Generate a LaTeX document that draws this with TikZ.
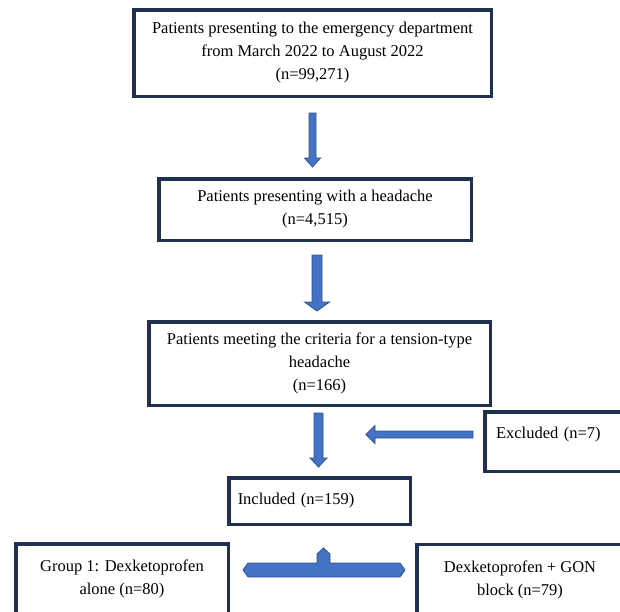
\documentclass[tikz,border=0pt]{standalone}
\usepackage{fontspec}
\setmainfont{Liberation Serif}
\usetikzlibrary{calc}
\definecolor{boxline}{HTML}{1F3050}
\definecolor{arrowblue}{HTML}{4472C4}
\definecolor{arrowline}{HTML}{2F528F}

% block arrows: #1 start, #2 tip, #3 half shaft, #4 half head
\newcommand{\downblock}[4]{%
	\filldraw[blockarrow] ($(#1)+(-#3,0)$) -- ($(#2)+(-#3,-9)$) -- ($(#2)+(-#4,-9)$) -- (#2)
		-- ($(#2)+(#4,-9)$) -- ($(#2)+(#3,-9)$) -- ($(#1)+(#3,0)$) -- cycle;}
\newcommand{\leftblock}[4]{%
	\filldraw[blockarrow] ($(#1)+(0,-#3)$) -- ($(#2)+(9,-#3)$) -- ($(#2)+(9,-#4)$) -- (#2)
		-- ($(#2)+(9,#4)$) -- ($(#2)+(9,#3)$) -- ($(#1)+(0,#3)$) -- cycle;}

\begin{document}
\begin{tikzpicture}[x=1pt, y=-1pt,
		flowbox/.style={draw=boxline, line width=3.5pt, fill=white, align=center, inner sep=0pt,
			font=\fontsize{16.5}{23}\selectfont},
		blockarrow/.style={fill=arrowblue, draw=arrowline, line width=0.8pt, line join=miter}]
		\clip (0,0) rectangle (620,611);
		\node[flowbox, minimum width=357.5pt, minimum height=86.5pt] (pop) at (312.5,53) {Patients presenting to the emergency department\\from March 2022 to August 2022\\(n=99,271)};
		\node[flowbox, minimum width=312.5pt, minimum height=61.5pt] (hd) at (315,209.5) {Patients presenting with a headache\\(n=4,515)};
		\node[flowbox, minimum width=341.5pt, minimum height=83.5pt] (tth) at (319.5,363.5) {Patients meeting the criteria for a tension-type\\headache\\(n=166)};
		\node[flowbox, minimum width=181.5pt, minimum height=46.5pt, inner xsep=9pt, text width=163.5pt, align=left] (incl) at (319.5,501) {Included (n=159)};
		\node[flowbox, minimum width=139.5pt, minimum height=59.5pt, inner xsep=11.25pt, text width=117pt, align=left, text height=11pt, text depth=17pt] (ex) at (554.5,441.5) {Excluded (n=7)};
		\node[flowbox, minimum width=212.5pt, minimum height=70.5pt] (g1) at (122,579) {Group 1: Dexketoprofen\\alone (n=80)};
		\node[flowbox, minimum width=206.5pt, minimum height=70.5pt] (g2) at (520,579.5) {Dexketoprofen + GON\\block (n=79)};

		\coordinate (a1s) at ($(pop.south)+(0,15)$);
		\coordinate (a1e) at ($(a1s |- hd.north)+(0,-10)$);
		\coordinate (a2s) at ($(hd.south)+(2,13)$);
		\coordinate (a2e) at ($(a2s |- tth.north)+(0,-9)$);
		\coordinate (a3s) at ($(tth.south)+(-1,6)$);
		\coordinate (a3e) at ($(a3s |- incl.north)+(0,-9)$);
		\coordinate (a4s) at ($(ex.west)+(-10,-7)$);
		\coordinate (a4e) at ($(a4s)+(-107,0)$);
		\coordinate (sp) at ($(incl.south)+(4,22)$);

		\downblock{a1s}{a1e}{3.5}{8}
		\downblock{a2s}{a2e}{5}{12.5}
		\downblock{a3s}{a3e}{4.5}{8.5}
		\leftblock{a4s}{a4e}{3.5}{9}
		% split arrow towards the two groups
		\filldraw[blockarrow] (sp) -- ++(6.5,6) -- ++(0,9) -- ++(70,0) -- ++(5,7) -- ++(-5,7)
			-- ++(-152,0) -- ++(-5,-7) -- ++(5,-7) -- ++(69,0) -- ++(0,-9) -- cycle;
	\end{tikzpicture}
\end{document}
